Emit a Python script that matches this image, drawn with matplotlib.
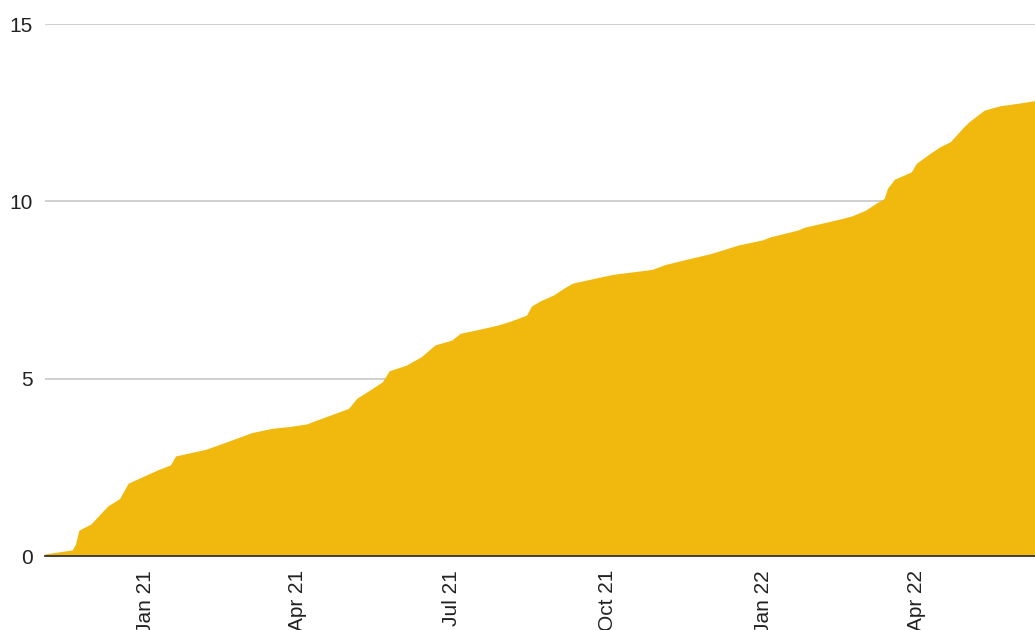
import matplotlib
matplotlib.use("Agg")
import matplotlib.pyplot as plt
import matplotlib.dates as mdates
import pandas as pd

dates = ["2020-11-03", "2020-11-19", "2020-11-21", "2020-11-23", "2020-11-30",
         "2020-12-10", "2020-12-17", "2020-12-22", "2020-12-27", "2021-01-08",
         "2021-01-16", "2021-01-19", "2021-02-06", "2021-02-24", "2021-03-05",
         "2021-03-17", "2021-03-27", "2021-04-06", "2021-04-19", "2021-05-01",
         "2021-05-06", "2021-05-12", "2021-05-21", "2021-05-25", "2021-06-04",
         "2021-06-13", "2021-06-21", "2021-07-01", "2021-07-06", "2021-07-15",
         "2021-07-28", "2021-08-05", "2021-08-14", "2021-08-17", "2021-08-22",
         "2021-08-30", "2021-09-05", "2021-09-10", "2021-09-25", "2021-10-04",
         "2021-10-27", "2021-11-04", "2021-11-15", "2021-12-01", "2021-12-17",
         "2021-12-31", "2022-01-05", "2022-01-21", "2022-01-25", "2022-02-14",
         "2022-02-22", "2022-03-02", "2022-03-08", "2022-03-13", "2022-03-15",
         "2022-03-19", "2022-03-29", "2022-04-01", "2022-04-09", "2022-04-15",
         "2022-04-21", "2022-04-29", "2022-05-02", "2022-05-11", "2022-05-20",
         "2022-06-02", "2022-06-10"]
values = [0.06, 0.17, 0.34, 0.73, 0.90,
          1.41, 1.62, 2.05, 2.16, 2.42,
          2.57, 2.82, 3.01, 3.32, 3.48,
          3.60, 3.65, 3.72, 3.95, 4.16,
          4.45, 4.63, 4.91, 5.22, 5.38,
          5.62, 5.95, 6.09, 6.28, 6.37,
          6.51, 6.63, 6.79, 7.05, 7.19,
          7.36, 7.55, 7.69, 7.85, 7.94,
          8.08, 8.22, 8.35, 8.53, 8.77,
          8.91, 9.00, 9.19, 9.27, 9.49,
          9.59, 9.75, 9.94, 10.08, 10.37,
          10.62, 10.83, 11.07, 11.35, 11.54,
          11.68, 12.10, 12.24, 12.57, 12.69,
          12.78, 12.84]
y_ticks = [0, 5, 10, 15]
x_ticks = ["2021-01-01", "2021-04-01", "2021-07-01", "2021-10-01", "2022-01-01", "2022-04-01"]

x = pd.to_datetime(dates)

plt.rcParams['font.family'] = ['Liberation Sans', 'DejaVu Sans']
fig = plt.figure(figsize=(10.35, 6.3), dpi=100)
ax = fig.add_axes([45/1035, 74/630, 990/1035, 532/630])

ax.fill_between(x, values, 0, color='#f1b90e', linewidth=0, zorder=2)

ax.set_xlim(pd.Timestamp("2020-11-03"), pd.Timestamp("2022-06-10"))
ax.set_ylim(0, 15)
ax.set_yticks(y_ticks)
ax.set_yticklabels([str(v) for v in y_ticks])
ax.set_xticks(pd.to_datetime(x_ticks))
ax.xaxis.set_major_formatter(mdates.DateFormatter('%b %y'))
for lbl in ax.get_xticklabels():
    lbl.set_rotation(90)

ax.grid(axis='y', color='#cccccc', linewidth=1.3, zorder=0)
ax.grid(axis='x', visible=False)
for s in ['top', 'right', 'left']:
    ax.spines[s].set_visible(False)
ax.spines['bottom'].set_color('#333333')
ax.spines['bottom'].set_linewidth(1.3)
ax.spines['bottom'].set_zorder(3)
ax.tick_params(axis='both', length=0, labelsize=15, colors='#222222')
ax.tick_params(axis='x', pad=10)
ax.tick_params(axis='y', pad=9)

fig.savefig("out.png", dpi=100)
